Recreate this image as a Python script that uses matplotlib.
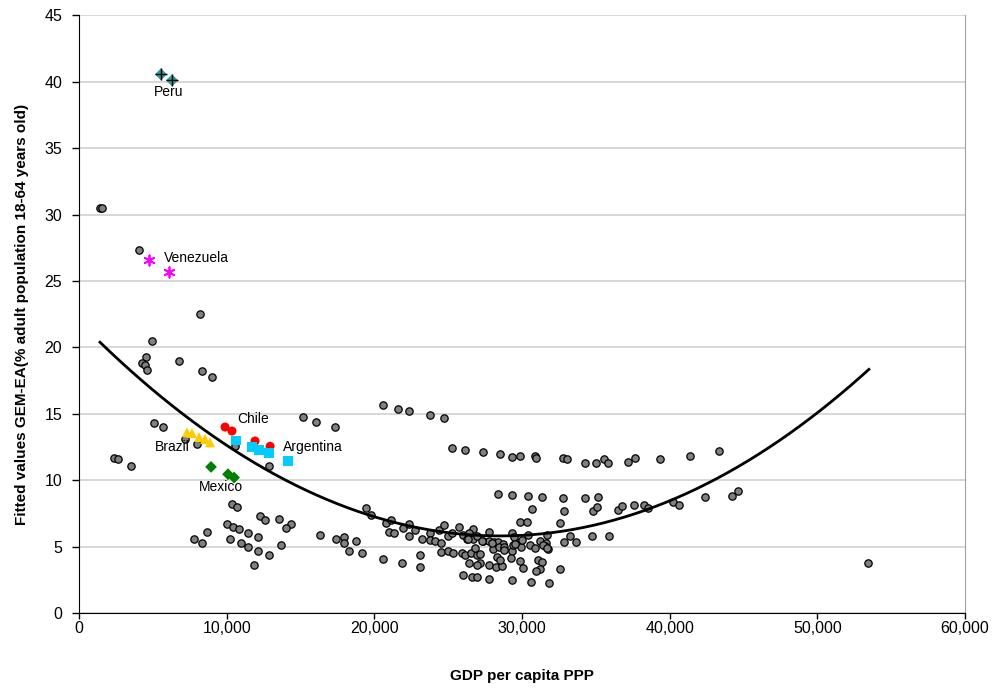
import numpy as np
import matplotlib.pyplot as plt
from matplotlib.ticker import FuncFormatter, MultipleLocator

plt.rcParams['font.family'] = ['Liberation Sans', 'DejaVu Sans']

# --- DATA ---
# other countries: GDP per capita PPP, fitted GEM-EA
other_gdp = [
    1420, 1560, 4060, 8190, 4940, 4540, 4270, 4470, 4600, 6770, 8330, 9010,
    5080, 5690, 7180, 7990, 2370, 2640, 3520, 10560, 12870, 15170, 16050, 17340,
    10360, 10700, 12260, 12600, 13540, 14360, 14020, 10020, 10430, 10840, 11450, 12120,
    8670, 7790, 8330, 10230, 10970, 11450, 12120, 12870, 13680, 11850, 16320, 17400,
    17950, 17950, 18760, 18290, 19170, 20590, 21870, 23090, 23090, 19440, 19770, 20790,
    21130, 20990, 21330, 21940, 22350, 22750, 22350, 23230, 23770, 23770, 24110, 24520,
    24380, 24720, 24990, 25260, 24520, 24990, 25330, 25730, 26680, 26000, 26280, 26680,
    25940, 26140, 26550, 26950, 27160, 26410, 27160, 26950, 26000, 26610, 26950, 27770,
    27360, 27770, 28100, 28370, 28710, 28030, 28440, 28780, 27770, 28240, 28640, 28300,
    28510, 27770, 29320, 29320, 29460, 29320, 29250, 29860, 30070, 29390, 29730, 29930,
    30410, 30540, 30880, 30610, 31220, 31080, 31350, 31220, 30950, 31830, 31690, 31630,
    26410, 26950, 32570, 29860, 30340, 32570, 33250, 34740, 35890, 32850, 33660, 31560,
    31760, 30680, 32850, 34810, 35080, 36500, 36770, 37580, 38260, 38530, 40220, 40630,
    42390, 44220, 44630, 53430, 28370, 29320, 30410, 31350, 32780, 34270, 35150, 20590,
    21600, 22350, 23770, 24720, 25260, 26140, 27360, 28510, 29320, 29860, 30880, 30950,
    32780, 33050, 34270, 35010, 35550, 35820, 37180, 37650, 39350, 41380, 43340, 29530,
    30000, 31420, 31690, 27970, 28780, 26820, 26340, 27290,
]
other_gem = [
    30.5, 30.5, 27.3, 22.5, 20.5, 19.3, 18.8, 18.7, 18.3, 19.0, 18.2, 17.8,
    14.3, 14.0, 13.1, 12.7, 11.7, 11.6, 11.1, 12.6, 11.1, 14.75, 14.4, 14.0,
    8.2, 8.0, 7.3, 7.0, 7.1, 6.7, 6.4, 6.7, 6.5, 6.3, 6.0, 5.7,
    6.1, 5.6, 5.3, 5.6, 5.3, 5.0, 4.7, 4.4, 5.1, 3.6, 5.9, 5.6,
    5.7, 5.3, 5.4, 4.7, 4.5, 4.1, 3.8, 3.5, 4.35, 7.9, 7.4, 6.8,
    7.0, 6.1, 6.0, 6.4, 6.7, 6.25, 5.8, 5.6, 6.0, 5.5, 5.4, 5.3,
    6.25, 6.6, 5.8, 6.0, 4.6, 4.7, 4.5, 6.45, 6.3, 5.85, 5.55, 5.55,
    4.5, 4.4, 4.5, 4.4, 4.45, 3.8, 3.75, 3.6, 2.85, 2.7, 2.7, 6.1,
    5.4, 5.4, 5.35, 5.35, 5.2, 4.8, 5.0, 5.0, 3.6, 3.5, 3.55, 4.2,
    4.0, 2.55, 2.5, 6.0, 5.7, 4.7, 4.15, 3.9, 3.4, 5.1, 5.3, 5.0,
    5.9, 5.1, 4.9, 2.3, 5.4, 4.0, 3.85, 3.3, 3.2, 2.25, 5.85, 5.3,
    6.0, 5.8, 3.3, 6.85, 6.85, 6.8, 5.8, 5.8, 5.8, 5.35, 5.35, 5.05,
    4.8, 7.8, 7.7, 7.7, 8.0, 7.75, 8.05, 8.1, 8.1, 7.9, 8.35, 8.1,
    8.7, 8.8, 9.2, 3.76, 8.95, 8.9, 8.8, 8.75, 8.65, 8.65, 8.7, 15.65,
    15.35, 15.2, 14.9, 14.7, 12.4, 12.3, 12.1, 12.0, 11.75, 11.8, 11.8, 11.7,
    11.65, 11.6, 11.3, 11.3, 11.6, 11.3, 11.35, 11.7, 11.6, 11.8, 12.2, 5.2,
    5.5, 5.1, 4.9, 5.27, 4.75, 4.9, 5.55, 5.4,
]

peru_gdp = [5550, 6300]
peru_gem = [40.55, 40.1]
venezuela_gdp = [4740, 6090]
venezuela_gem = [26.55, 25.7]
chile_gdp = [9890, 10360, 11920, 12940]
chile_gem = [14.0, 13.7, 12.95, 12.55]
argentina_gdp = [10630, 11720, 12190, 12870, 14150]
argentina_gem = [13.0, 12.5, 12.25, 12.05, 11.45]
brazil_gdp = [7310, 7650, 8130, 8530, 8870]
brazil_gem = [13.6, 13.55, 13.25, 13.1, 12.85]
mexico_gdp = [8940, 10090, 10500]
mexico_gem = [11.0, 10.45, 10.2]

# fitted curve, points
curve_gdp = [1420, 5690, 7515, 14960, 16990, 23970, 27150, 31890, 32770, 38460, 44080, 51050, 53490]
curve_gem = [20.4, 16.0, 14.7, 9.5, 8.5, 6.25, 5.8, 5.87, 6.1, 7.9, 10.76, 16.0, 18.3]

# --- PLOT ---
fig = plt.figure(figsize=(10.04, 6.93), dpi=100)
ax = fig.add_axes([0.0787, 0.1154, 0.8825, 0.8626])

ax.yaxis.grid(True, color='#d4d4d4', lw=1.3, zorder=0)
ax.set_axisbelow(True)

ax.scatter(other_gdp, other_gem, s=28, c='#808080', edgecolors='black', linewidths=0.9, zorder=3)

# smooth the read curve points
coef = np.polyfit(curve_gdp, curve_gem, 3)
xx = np.linspace(curve_gdp[0], curve_gdp[-1], 300)
ax.plot(xx, np.polyval(coef, xx), color='black', lw=2.0, zorder=4)

ax.scatter(peru_gdp, peru_gem, s=38, marker='D', c='#2e9c9c', edgecolors='none', zorder=5)
ax.scatter(peru_gdp, peru_gem, s=70, marker='+', c='black', linewidths=1.0, zorder=6)
ax.scatter(venezuela_gdp, venezuela_gem, s=55, marker=(6, 2, 0), c='#ff00ff', linewidths=1.3, zorder=5)
ax.scatter(chile_gdp, chile_gem, s=42, marker='o', c='#ff0000', edgecolors='none', zorder=5)
ax.scatter(argentina_gdp, argentina_gem, s=48, marker='s', c='#00ccff', edgecolors='none', zorder=5)
ax.scatter(brazil_gdp, brazil_gem, s=52, marker='^', c='#ffcc00', edgecolors='none', zorder=5)
ax.scatter(mexico_gdp, mexico_gem, s=36, marker='D', c='#008000', edgecolors='none', zorder=5)

lab = dict(fontsize=10, color='black', zorder=7)
ax.text(6100, 39.2, 'Peru', ha='center', va='center', **lab)
ax.text(5750, 26.7, 'Venezuela', ha='left', va='center', **lab)
ax.text(11800, 14.6, 'Chile', ha='center', va='center', **lab)
ax.text(13800, 12.5, 'Argentina', ha='left', va='center', **lab)
ax.text(6300, 12.5, 'Brazil', ha='center', va='center', **lab)
ax.text(9600, 9.5, 'Mexico', ha='center', va='center', **lab)

ax.set_xlim(0, 60000)
ax.set_ylim(0, 45)
ax.xaxis.set_major_locator(MultipleLocator(10000))
ax.yaxis.set_major_locator(MultipleLocator(5))
ax.xaxis.set_major_formatter(FuncFormatter(lambda v, p: f"{int(v):,}"))
ax.tick_params(labelsize=11.5, direction='out', width=1, color='black')
ax.tick_params(axis='x', length=4, pad=1.5)
ax.tick_params(axis='y', length=5, pad=7)

ax.spines['top'].set_visible(False)
ax.spines['right'].set_color('#a0a0a0')
ax.spines['left'].set_color('black')
ax.spines['bottom'].set_color('black')

ax.set_xlabel('GDP per capita PPP', fontsize=11, fontweight='bold', labelpad=24)
ax.set_ylabel('Fitted values GEM-EA(% adult population 18-64 years old)', fontsize=11,
              fontweight='bold', labelpad=11)

fig.savefig('out.png', dpi=100)
